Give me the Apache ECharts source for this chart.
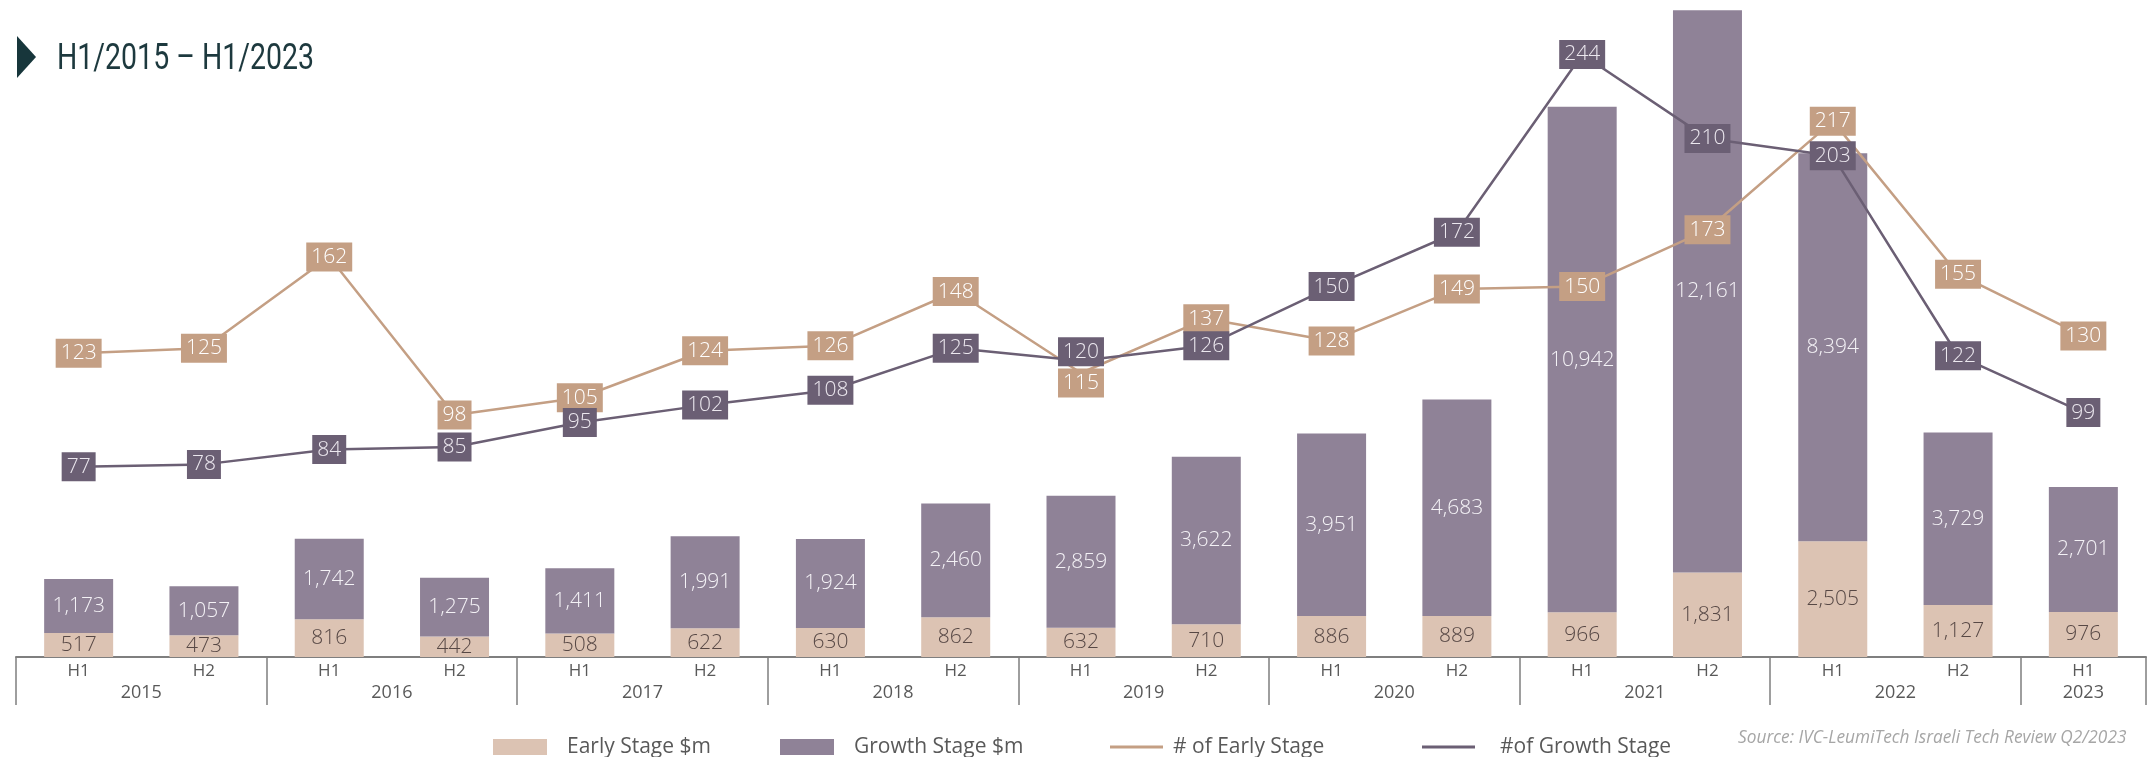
<!DOCTYPE html>
<html>
<head>
<meta charset="utf-8">
<script src="https://cdn.jsdelivr.net/npm/echarts@6/dist/echarts.min.js"></script>
<style>
html,body{margin:0;padding:0;background:#fff;}
#chart{width:2155px;height:757px;}
</style>
</head>
<body>
<div id="chart"></div>
<script>
const periods = ['2015 H1','2015 H2','2016 H1','2016 H2','2017 H1','2017 H2','2018 H1','2018 H2','2019 H1','2019 H2','2020 H1','2020 H2','2021 H1','2021 H2','2022 H1','2022 H2','2023 H1'];
const years = ['2015','2016','2017','2018','2019','2020','2021','2022','2023'];
const earlyStageAmount = [517,473,816,442,508,622,630,862,632,710,886,889,966,1831,2505,1127,976];
const growthStageAmount = [1173,1057,1742,1275,1411,1991,1924,2460,2859,3622,3951,4683,10942,12161,8394,3729,2701];
const earlyStageCount = [123,125,162,98,105,124,126,148,115,137,128,149,150,173,217,155,130];
const growthStageCount = [77,78,84,85,95,102,108,125,120,126,150,172,244,210,203,122,99];
const yearTickValues = [0,2,4,6,8,10,12,14,16,17];
const yearLabelValues = [1,3,5,7,9,11,13,15,16.5];

const C = {
  earlyBar:'#dcc3b3', growthBar:'#8f8297',
  earlyLine:'#c49f84', growthLine:'#6b5f74',
  axis:'#7f7f7f', text:'#595959'
};
const fmt = v => Number(v).toLocaleString('en-US');

// label offsets where the two lines meet (2019 H1)
function lineData(arr, idx, dy){
  return arr.map((v,i)=> i===idx ? {value:v, label:{offset:[0,dy]}} : v);
}

const chart = echarts.init(document.getElementById('chart'), null, {renderer:'canvas'});
const lineLabel = (bg, fg) => ({
  show:true, position:'inside', fontFamily:'Open Sans', fontSize:21, fontWeight:300,
  lineHeight:21, color:fg, backgroundColor:bg, padding:[4,5,4,5], formatter:p=>fmt(p.value)
});
const legendText = pad => ({fontFamily:'Open Sans', fontSize:21, color:C.text, lineHeight:24, padding:[0,0,0,pad]});
const legendBase = {top:730, itemGap:0, selectedMode:false};
chart.setOption({
  animation:false,
  backgroundColor:'#fff',
  grid:{left:16, right:9, top:10, bottom:100, containLabel:false},
  graphic:[
    {type:'polygon', shape:{points:[[17,36],[36,57],[17,78]]}, style:{fill:'#17363b'}},
    {type:'text', x:57, y:60, scaleX:0.77,
     style:{text:'H1/2015 – H1/2023', fontFamily:'Roboto', fontSize:37, fill:'#1d393e', verticalAlign:'middle', align:'left'}},
    {type:'text', x:1738, y:738, scaleX:0.96,
     style:{text:'Source: IVC-LeumiTech Israeli Tech Review Q2/2023', fontFamily:'Open Sans', fontStyle:'italic', fontSize:18, fill:'#a6a6a6', verticalAlign:'middle', align:'left'}}
  ],
  legend:[
    Object.assign({}, legendBase, {left:488, data:[{name:'Early Stage $m', icon:'rect'}], itemWidth:54, itemHeight:16, textStyle:legendText(15)}),
    Object.assign({}, legendBase, {left:775, data:[{name:'Growth Stage $m', icon:'rect'}], itemWidth:54, itemHeight:16, textStyle:legendText(15)}),
    Object.assign({}, legendBase, {left:1105, data:[{name:'# of Early Stage', icon:'rect'}], itemWidth:53, itemHeight:3, textStyle:legendText(5)}),
    Object.assign({}, legendBase, {left:1417, data:[{name:'#of Growth Stage', icon:'rect'}], itemWidth:53, itemHeight:3, textStyle:legendText(20)})
  ],
  xAxis:[
    {type:'category', data:periods, boundaryGap:true, position:'bottom',
     axisLine:{show:true, lineStyle:{color:C.axis, width:2}},
     axisTick:{show:false},
     axisLabel:{formatter:v=>v.split(' ')[1], fontFamily:'Open Sans', fontSize:17, color:C.text, margin:6}},
    {type:'value', min:0, max:17, position:'bottom', gridIndex:0,
     axisLine:{show:false}, splitLine:{show:false},
     axisTick:{show:true, customValues:yearTickValues, length:48, lineStyle:{color:C.axis, width:1.5}},
     axisLabel:{show:true, customValues:yearLabelValues, formatter:v=>years[Math.floor(v/2)], fontFamily:'Open Sans', fontSize:18, color:C.text, margin:27}}
  ],
  yAxis:[
    {type:'value', min:0, max:14000, show:false, splitLine:{show:false}},
    {type:'value', min:0, max:262, show:false, splitLine:{show:false}}
  ],
  series:[
    {name:'Early Stage $m', type:'bar', stack:'amt', data:earlyStageAmount, barWidth:69,
     itemStyle:{color:C.earlyBar},
     label:{show:true, position:'inside', fontFamily:'Open Sans', fontWeight:300, fontSize:21, color:'#574845', formatter:p=>fmt(p.value)}},
    {name:'Growth Stage $m', type:'bar', stack:'amt', data:growthStageAmount, barWidth:69,
     itemStyle:{color:C.growthBar},
     label:{show:true, position:'inside', fontFamily:'Open Sans', fontWeight:300, fontSize:21, color:'#f4f2f6', formatter:p=>fmt(p.value)}},
    {name:'# of Early Stage', type:'line', yAxisIndex:1, data:lineData(earlyStageCount, 8, 10), z:4,
     symbol:'circle', symbolSize:1, showSymbol:true,
     lineStyle:{color:C.earlyLine, width:2.5}, itemStyle:{color:C.earlyLine},
     label:lineLabel(C.earlyLine, '#ffffff')},
    {name:'#of Growth Stage', type:'line', yAxisIndex:1, data:lineData(growthStageCount, 8, -9), z:5,
     symbol:'circle', symbolSize:1, showSymbol:true,
     lineStyle:{color:C.growthLine, width:2.5}, itemStyle:{color:C.growthLine},
     label:lineLabel(C.growthLine, '#ece8ef')}
  ]
});
</script>
</body>
</html>
